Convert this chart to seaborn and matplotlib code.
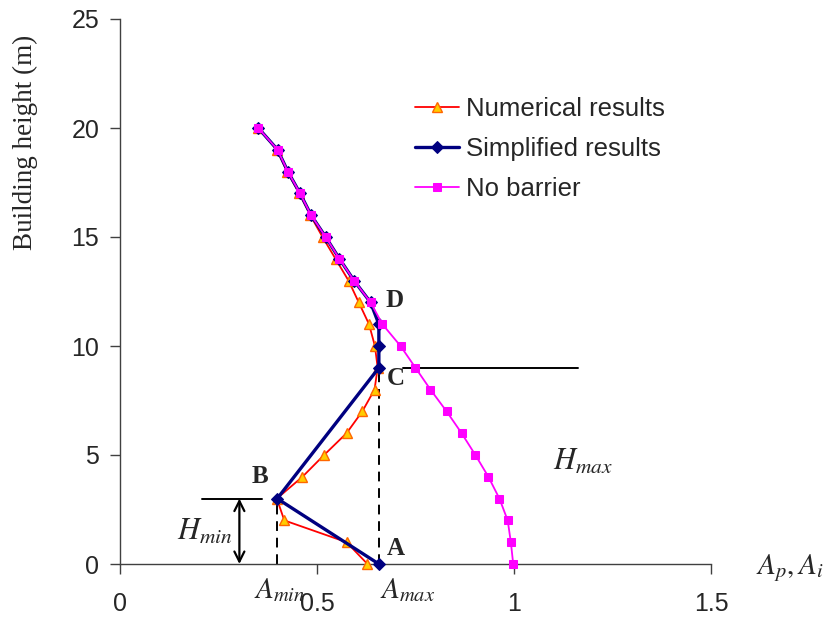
import matplotlib
matplotlib.use("Agg")
import matplotlib.pyplot as plt
import seaborn as sns
import pandas as pd

# ---- data ----
num_height = [0, 1, 2, 3, 4, 5, 6, 7, 8, 9, 10, 11, 12, 13, 14, 15, 16, 17, 18, 19, 20]
num_A = [0.628, 0.575, 0.417, 0.398, 0.463, 0.518, 0.575, 0.615, 0.646, 0.654, 0.647,
         0.632, 0.606, 0.580, 0.547, 0.514, 0.483, 0.455, 0.424, 0.398, 0.351]

simp_height = [0, 3, 9, 10, 11, 12, 13, 14, 15, 16, 17, 18, 19, 20]
simp_A = [0.657, 0.399, 0.657, 0.657, 0.657, 0.636, 0.594, 0.557, 0.522, 0.485,
          0.457, 0.426, 0.400, 0.351]

nob_height = [0, 1, 2, 3, 4, 5, 6, 7, 8, 9, 10, 11, 12, 13, 14, 15, 16, 17, 18, 19, 20]
nob_A = [0.998, 0.992, 0.984, 0.963, 0.935, 0.902, 0.867, 0.829, 0.788, 0.750, 0.712,
         0.666, 0.636, 0.594, 0.557, 0.522, 0.485, 0.457, 0.426, 0.400, 0.351]

series_labels = ["Numerical results", "Simplified results", "No barrier"]
x_ticks = [0, 0.5, 1, 1.5]
x_tick_labels = ["0", "0.5", "1", "1.5"]
y_ticks = [0, 5, 10, 15, 20, 25]

A_min = 0.399
A_max = 0.657
H_min = 3
H_max = 9

# ---- style ----
sns.set_style("ticks")
plt.rcParams["font.family"] = ["Liberation Sans", "DejaVu Sans"]
plt.rcParams["mathtext.fontset"] = "stix"

fig = plt.figure(figsize=(8.24, 6.19), dpi=100)
ax = fig.add_axes([120 / 824, 1 - 564 / 619, 591 / 824, 545 / 619])

df_num = pd.DataFrame({"A": num_A, "H": num_height})
df_simp = pd.DataFrame({"A": simp_A, "H": simp_height})
df_nob = pd.DataFrame({"A": nob_A, "H": nob_height})

sns.lineplot(data=df_num, x="A", y="H", sort=False, estimator=None, ax=ax,
             color="#FF0000", lw=1.3, marker="^", markersize=6.5,
             markerfacecolor="#FFCC00", markeredgecolor="#FF6600", markeredgewidth=1.0,
             label=series_labels[0], clip_on=False, zorder=3)
sns.lineplot(data=df_simp, x="A", y="H", sort=False, estimator=None, ax=ax,
             color="#000080", lw=2.4, marker="D", markersize=6.5,
             markerfacecolor="#000080", markeredgecolor="#000080",
             label=series_labels[1], clip_on=False, zorder=4)
sns.lineplot(data=df_nob, x="A", y="H", sort=False, estimator=None, ax=ax,
             color="#FF00FF", lw=1.3, marker="s", markersize=5.5,
             markerfacecolor="#FF00FF", markeredgecolor="#FF00FF",
             label=series_labels[2], clip_on=False, zorder=5)

# ---- axes ----
ax.set_xlim(0, 1.5)
ax.set_ylim(0, 25)
ax.set_xticks(x_ticks)
ax.set_xticklabels(x_tick_labels)
ax.set_yticks(y_ticks)
ax.tick_params(axis="both", labelsize=18, length=7, width=1, color="#404040",
               direction="out")
ax.tick_params(axis="y", pad=8)
ax.tick_params(axis="x", pad=13)
for s in ["top", "right"]:
    ax.spines[s].set_visible(False)
for s in ["left", "bottom"]:
    ax.spines[s].set_color("#404040")
    ax.spines[s].set_linewidth(1.0)
ax.set_xlabel("")
ax.set_ylabel("Building height (m)", family=["Liberation Serif", "DejaVu Serif"],
              fontsize=19.5)
ax.yaxis.set_label_coords(-0.138, 0.774)

# ---- annotations ----
ax.plot([A_min, A_min], [0, H_min], ls=(0, (5, 3.5)), color="black", lw=1.4, zorder=2)
ax.plot([A_max, A_max], [0, H_max], ls=(0, (5, 3.5)), color="black", lw=1.4, zorder=2)
ax.plot([0.718, 1.163], [H_max, H_max], color="black", lw=1.4, zorder=2, clip_on=False)
ax.plot([0.209, 0.36], [H_min, H_min], color="black", lw=1.4, zorder=2)
ax.annotate("", xy=(0.303, 0), xytext=(0.303, H_min),
            arrowprops=dict(arrowstyle="<->", color="black", lw=1.6,
                            mutation_scale=18, shrinkA=0, shrinkB=0))

serif = ["Liberation Serif", "DejaVu Serif"]
ax.text(0.678, 0.7, "A", fontsize=18, fontweight="bold", family=serif, va="center", ha="left")
ax.text(0.333, 4.0, "B", fontsize=18, fontweight="bold", family=serif, va="center", ha="left")
ax.text(0.678, 8.5, "C", fontsize=18, fontweight="bold", family=serif, va="center", ha="left")
ax.text(0.675, 12.1, "D", fontsize=18, fontweight="bold", family=serif, va="center", ha="left")

ax.text(0.216, 1.5, r"$H_{min}$", fontsize=22, ha="center", va="center")
ax.text(1.175, 4.7, r"$H_{max}$", fontsize=22, ha="center", va="center")
ax.text(0.406, -1.2, r"$A_{min}$", fontsize=21, ha="center", va="center", clip_on=False)
ax.text(0.731, -1.2, r"$A_{max}$", fontsize=21, ha="center", va="center", clip_on=False)
ax.text(1.70, -0.2, r"$A_p, A_i$", fontsize=21, ha="center", va="center", clip_on=False)

# ---- legend ----
leg = ax.legend(loc="upper left", bbox_to_anchor=(0.499, 0.857), frameon=False,
                fontsize=18.5, handlelength=1.7, handletextpad=0.28,
                labelspacing=0.62, borderpad=0, borderaxespad=0)

fig.savefig("out.png", dpi=100)
